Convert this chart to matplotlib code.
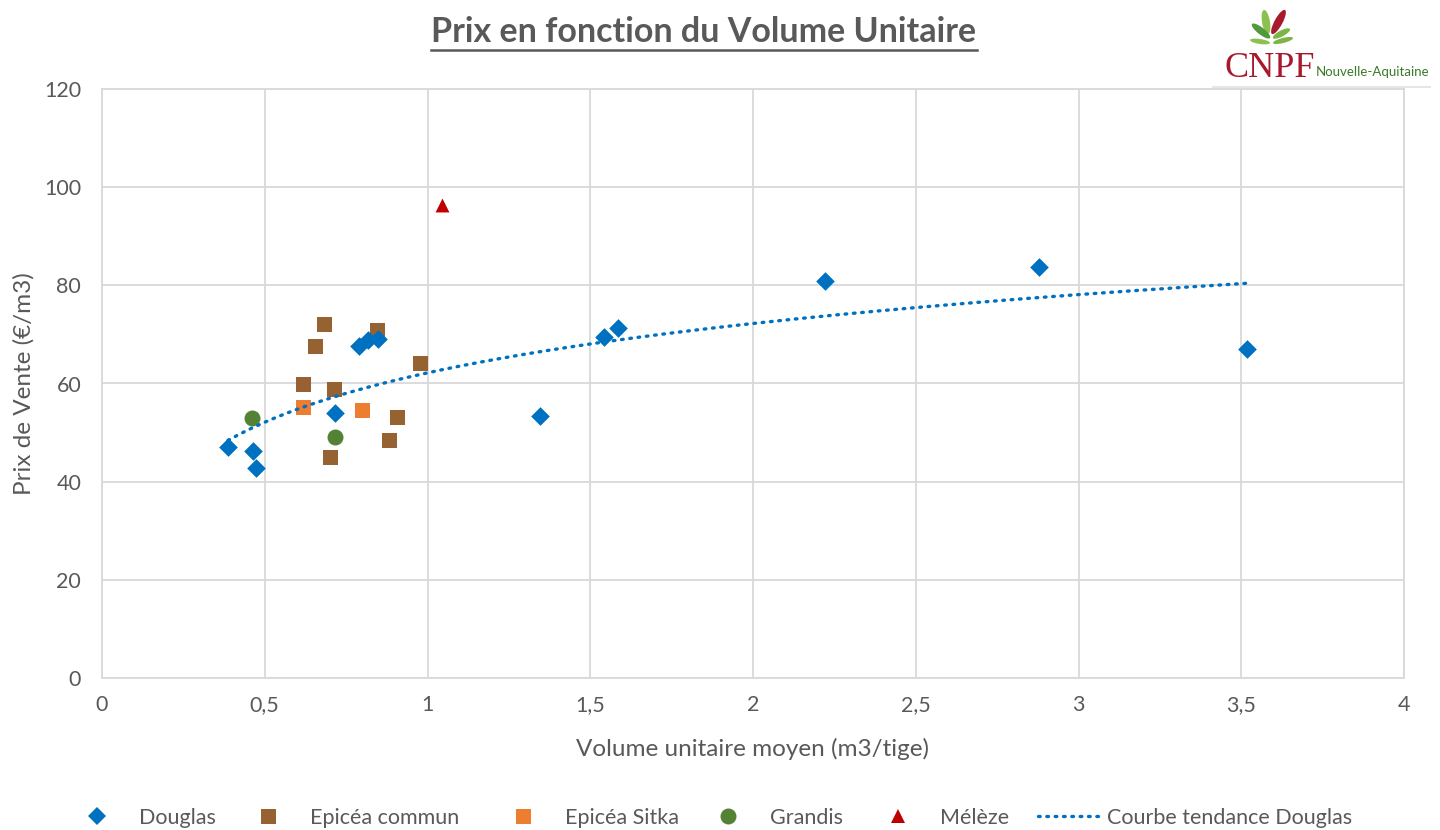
#!/usr/bin/env python3
"""
Prix de vente en fonction du volume unitaire moyen, par essence.
"""

import numpy as np
import matplotlib
matplotlib.use("Agg")
import matplotlib.pyplot as plt
from matplotlib.lines import Line2D
from matplotlib.patches import Ellipse
from matplotlib.ticker import FuncFormatter


# ============================================================
# Data
# ============================================================

douglas_x = [0.387, 0.464, 0.473, 0.716, 0.790, 0.816, 0.848, 1.346, 1.542, 1.585, 2.221, 2.879, 3.518]
douglas_y = [47.0, 46.2, 42.8, 54.0, 67.6, 68.8, 69.1, 53.4, 69.5, 71.3, 80.9, 83.7, 67.0]

epicea_x = [0.682, 0.654, 0.845, 0.977, 0.618, 0.713, 0.906, 0.882, 0.700]
epicea_y = [72.1, 67.6, 70.9, 64.2, 59.9, 58.8, 53.1, 48.5, 45.0]

sitka_x = [0.618, 0.799]
sitka_y = [55.2, 54.6]

grandis_x = [0.461, 0.715]
grandis_y = [53.0, 49.1]

meleze_x = [1.045]
meleze_y = [96.4]

x_ticks = [0, 0.5, 1, 1.5, 2, 2.5, 3, 3.5, 4]
y_ticks = [0, 20, 40, 60, 80, 100, 120]

TITLE = "Prix en fonction du Volume Unitaire"
X_LABEL = "Volume unitaire moyen (m3/tige)"
Y_LABEL = "Prix de Vente (€/m3)"

# ============================================================
# Style
# ============================================================

C_DOUGLAS = "#0070C0"
C_EPICEA = "#976232"
C_SITKA = "#ED7D31"
C_GRANDIS = "#548235"
C_MELEZE = "#C00000"
C_TEXT = "#595959"
C_GRID = "#D9D9D9"

FS_TICK = 15.5
FS_LABEL = 17.5
DOTS = (0, (0.5, 2.0))

plt.rcParams["font.family"] = ["Lato", "DejaVu Sans"]


def comma_fmt(v, pos):
    return f"{v:g}".replace(".", ",")


def draw_logo(fig):
    # small axes in pixel units for the CNPF logo
    lax = fig.add_axes([1212 / 1440, 1 - 88 / 830, 226 / 1440, 86 / 830])
    lax.set_xlim(1212, 1438)
    lax.set_ylim(88, 2)
    lax.axis("off")

    # leaves as (base, tip, width, colour)
    leaves = [
        ((1268, 34), (1264, 10), 8, "#8CC152"),
        ((1272, 34), (1285, 10), 8, "#A8192E"),
        ((1270, 38), (1252, 24), 7, "#4F9A3A"),
        ((1273, 38), (1290, 29), 6, "#7DB544"),
        ((1270, 43), (1250, 40), 5, "#8CC152"),
        ((1273, 43), (1293, 38), 5, "#7DB544"),
    ]
    for (x0, y0), (x1, y1), w, col in leaves:
        length = np.hypot(x1 - x0, y1 - y0)
        ang = np.degrees(np.arctan2(y1 - y0, x1 - x0))
        lax.add_patch(Ellipse(((x0 + x1) / 2, (y0 + y1) / 2), length, w,
                              angle=ang, color=col, lw=0))

    lax.text(1224, 77, "CNPF", fontsize=26, color="#A8192E",
             family=["Liberation Serif", "DejaVu Serif"], va="baseline", ha="left")
    lax.text(1316, 76, "Nouvelle-Aquitaine", fontsize=9.5, color="#3B7A2A",
             va="baseline", ha="left")
    lax.plot([1212, 1430], [87, 87], color="#E6E6E6", lw=1.5)


def main():
    fig = plt.figure(figsize=(14.4, 8.3), dpi=100)
    ax = fig.add_axes([102 / 1440, 1 - 678 / 830, 1302 / 1440, 589 / 830])

    ax.scatter(douglas_x, douglas_y, marker="D", s=9.5 ** 2, color=C_DOUGLAS,
               lw=0, zorder=4)
    ax.scatter(epicea_x, epicea_y, marker="s", s=10.8 ** 2, color=C_EPICEA,
               lw=0, zorder=3)
    ax.scatter(sitka_x, sitka_y, marker="s", s=10.8 ** 2, color=C_SITKA,
               lw=0, zorder=3)
    ax.scatter(grandis_x, grandis_y, marker="o", s=11.5 ** 2, color=C_GRANDIS,
               lw=0, zorder=3)
    ax.scatter(meleze_x, meleze_y, marker="^", s=10 ** 2, color=C_MELEZE,
               lw=0, zorder=3)

    # logarithmic trend line on Douglas
    dx = np.array(douglas_x)
    dy = np.array(douglas_y)
    a, b = np.polyfit(np.log(dx), dy, 1)
    xt = np.linspace(dx.min(), dx.max(), 300)
    ax.plot(xt, a * np.log(xt) + b, color=C_DOUGLAS, lw=2.4,
            linestyle=DOTS, dash_capstyle="round", zorder=5)

    ax.set_xlim(0, 4)
    ax.set_ylim(0, 120)
    ax.set_xticks(x_ticks)
    ax.set_yticks(y_ticks)
    ax.xaxis.set_major_formatter(FuncFormatter(comma_fmt))
    ax.grid(True, color=C_GRID, lw=1.3)
    ax.set_axisbelow(True)
    for sp in ax.spines.values():
        sp.set_color(C_GRID)
        sp.set_linewidth(1.3)
    ax.tick_params(length=0, labelsize=FS_TICK, labelcolor=C_TEXT)
    ax.tick_params(axis="x", pad=12)
    ax.tick_params(axis="y", pad=15)

    ax.set_xlabel(X_LABEL, fontsize=FS_LABEL, color=C_TEXT, labelpad=17)
    ax.set_ylabel(Y_LABEL, fontsize=FS_LABEL, color=C_TEXT, labelpad=7)

    # title with underline
    t = fig.text(704 / 1440, 1 - 42 / 830, TITLE, fontsize=24.5, fontweight="bold",
                 color=C_TEXT, ha="center", va="baseline")
    fig.canvas.draw()
    bb = t.get_window_extent()
    y_ul = 1 - 50 / 830
    fig.add_artist(Line2D([bb.x0 / 1440, bb.x1 / 1440], [y_ul, y_ul],
                          transform=fig.transFigure, color=C_TEXT, lw=1.8))

    draw_logo(fig)

    # legend, one entry at a time to place them like the original
    entries = [
        (Line2D([], [], marker="D", color=C_DOUGLAS, ls="", ms=9.5, mew=0), "Douglas", 86),
        (Line2D([], [], marker="s", color=C_EPICEA, ls="", ms=10.8, mew=0), "Epicéa commun", 257),
        (Line2D([], [], marker="s", color=C_SITKA, ls="", ms=10.8, mew=0), "Epicéa Sitka", 512),
        (Line2D([], [], marker="o", color=C_GRANDIS, ls="", ms=11.5, mew=0), "Grandis", 717),
        (Line2D([], [], marker="^", color=C_MELEZE, ls="", ms=10, mew=0), "Mélèze", 887),
    ]
    for h, lab, px in entries:
        fig.legend([h], [lab], loc="center left",
                   bbox_to_anchor=(px / 1440, 1 - 818 / 830), frameon=False,
                   fontsize=FS_TICK, labelcolor=C_TEXT, handlelength=1.0,
                   handletextpad=1.45, borderpad=0, borderaxespad=0)
    trend = Line2D([], [], color=C_DOUGLAS, lw=2.4, linestyle=DOTS,
                   dash_capstyle="round")
    fig.legend([trend], ["Courbe tendance Douglas"], loc="center left",
               bbox_to_anchor=(1038 / 1440, 1 - 818 / 830), frameon=False,
               fontsize=FS_TICK, labelcolor=C_TEXT, handlelength=2.8,
               handletextpad=0.42, borderpad=0, borderaxespad=0)

    fig.savefig("out.png", dpi=100)
    plt.close(fig)


if __name__ == "__main__":
    main()
